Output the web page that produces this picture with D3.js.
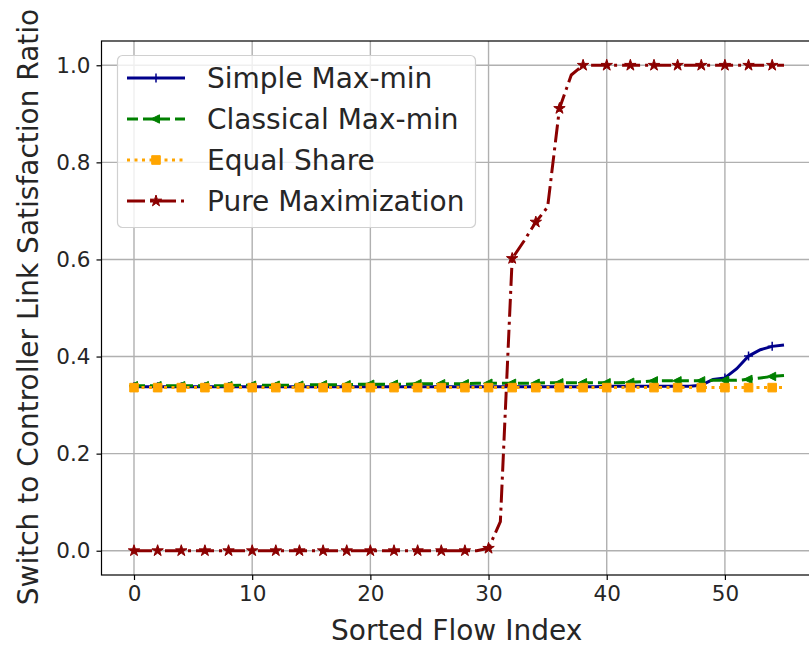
<!DOCTYPE html>
<html>
<head>
<meta charset="utf-8">
<script src="https://cdn.jsdelivr.net/npm/d3@7"></script>
<style>
  html, body { margin: 0; padding: 0; background: #fff; }
  svg { display: block; font-family: "DejaVu Sans", sans-serif; }
</style>
</head>
<body>
<svg id="chart" width="809" height="647"></svg>
<script>
// Satisfaction ratio per sorted flow (flow index 0..55)
const flowIndex = d3.range(0, 56);

const simpleMaxMin = [
  0.338, 0.338, 0.338, 0.338, 0.338, 0.338, 0.338, 0.338, 0.338, 0.338,
  0.338, 0.338, 0.338, 0.338, 0.338, 0.338, 0.338, 0.338, 0.338, 0.338,
  0.338, 0.338, 0.338, 0.338, 0.338, 0.338, 0.338, 0.338, 0.338, 0.338,
  0.338, 0.338, 0.338, 0.338, 0.338, 0.338, 0.338, 0.338, 0.338, 0.338,
  0.339, 0.339, 0.339, 0.339, 0.339, 0.339, 0.339, 0.339, 0.341, 0.353,
  0.356, 0.375, 0.401, 0.414, 0.421, 0.424
];

const classicalMaxMin = [
  0.340, 0.340, 0.340, 0.340, 0.340, 0.340, 0.340, 0.340, 0.340, 0.341,
  0.341, 0.341, 0.341, 0.341, 0.341, 0.342, 0.342, 0.342, 0.342, 0.343,
  0.343, 0.343, 0.343, 0.343, 0.344, 0.344, 0.344, 0.344, 0.344, 0.345,
  0.345, 0.345, 0.345, 0.345, 0.345, 0.346, 0.346, 0.346, 0.346, 0.346,
  0.346, 0.346, 0.347, 0.348, 0.350, 0.350, 0.350, 0.350, 0.350, 0.351,
  0.351, 0.351, 0.353, 0.356, 0.359, 0.361
];

const equalShare = [
  0.336, 0.336, 0.336, 0.336, 0.336, 0.336, 0.336, 0.336, 0.336, 0.336,
  0.336, 0.336, 0.336, 0.336, 0.336, 0.336, 0.336, 0.336, 0.336, 0.336,
  0.336, 0.336, 0.336, 0.336, 0.336, 0.336, 0.336, 0.336, 0.336, 0.336,
  0.336, 0.336, 0.336, 0.336, 0.336, 0.336, 0.336, 0.336, 0.336, 0.336,
  0.336, 0.336, 0.336, 0.336, 0.336, 0.336, 0.336, 0.336, 0.336, 0.336,
  0.336, 0.336, 0.336, 0.336, 0.336, 0.336
];

const pureMaximization = [
  0, 0, 0, 0, 0, 0, 0, 0, 0, 0,
  0, 0, 0, 0, 0, 0, 0, 0, 0, 0,
  0, 0, 0, 0, 0, 0, 0, 0, 0, 0,
  0.005, 0.06, 0.602, 0.638, 0.677, 0.708, 0.911, 0.98, 1, 1,
  1, 1, 1, 1, 1, 1, 1, 1, 1, 1,
  1, 1, 1, 1, 1, 1
];

const xTicks = [0, 10, 20, 30, 40, 50];
const yTicks = [0.0, 0.2, 0.4, 0.6, 0.8, 1.0];

const seriesNames = ["Simple Max-min", "Classical Max-min", "Equal Share", "Pure Maximization"];
const seriesValues = [simpleMaxMin, classicalMaxMin, equalShare, pureMaximization];
const seriesColors = ["#00008b", "#008000", "#ffa500", "#8b0000"];
const seriesDash = ["none", "11,5", "3,4.5", "18,5,3,5"];
const seriesMarker = ["plus", "triangleLeft", "square", "star"];

const svg = d3.select("#chart");
const plot = { left: 101.5, right: 816.5, top: 41, bottom: 575 };

const x = d3.scaleLinear().domain([-2.75, 57.75]).range([plot.left, plot.right]);
const y = d3.scaleLinear().domain([-0.05, 1.05]).range([plot.bottom, plot.top]);

svg.append("defs").append("clipPath").attr("id", "plotClip")
  .append("rect")
  .attr("x", plot.left).attr("y", plot.top)
  .attr("width", plot.right - plot.left).attr("height", plot.bottom - plot.top);

// grid
const grid = svg.append("g");
grid.selectAll("line.gx").data(xTicks).join("line")
  .attr("x1", d => x(d)).attr("x2", d => x(d))
  .attr("y1", plot.top).attr("y2", plot.bottom)
  .attr("stroke", "#b0b0b0").attr("stroke-width", 1.4);
grid.selectAll("line.gy").data(yTicks).join("line")
  .attr("y1", d => y(d)).attr("y2", d => y(d))
  .attr("x1", plot.left).attr("x2", plot.right)
  .attr("stroke", "#b0b0b0").attr("stroke-width", 1.4);

// marker shapes
function starPath(r) {
  const pts = [];
  for (let i = 0; i < 10; i++) {
    const rr = i % 2 === 0 ? r : r * 0.382;
    const a = -Math.PI / 2 + i * Math.PI / 5;
    pts.push([rr * Math.cos(a), rr * Math.sin(a)]);
  }
  return "M" + pts.map(p => p.join(",")).join("L") + "Z";
}
function markerPath(kind) {
  switch (kind) {
    case "plus": return "M-4.5,0L4.5,0M0,-4.5L0,4.5";
    case "triangleLeft": return "M-5,0L3.5,-4.2L3.5,4.2Z";
    case "square": return "M-4.3,-4.3L4.3,-4.3L4.3,4.3L-4.3,4.3Z";
    case "star": return starPath(6);
  }
}

const line = d3.line().x(d => x(d[0])).y(d => y(d[1]));
const plotG = svg.append("g").attr("clip-path", "url(#plotClip)");

seriesValues.forEach((vals, s) => {
  const pts = flowIndex.map((i, k) => [i, vals[k]]);
  const g = plotG.append("g");
  g.append("path")
    .attr("d", line(pts))
    .attr("fill", "none")
    .attr("stroke", seriesColors[s])
    .attr("stroke-width", 3)
    .attr("stroke-dasharray", seriesDash[s]);
  const marked = pts.filter((p, k) => k % 2 === 0);
  g.selectAll("path.m").data(marked).join("path")
    .attr("transform", d => `translate(${x(d[0])},${y(d[1])})`)
    .attr("d", markerPath(seriesMarker[s]))
    .attr("fill", seriesMarker[s] === "plus" ? "none" : seriesColors[s])
    .attr("stroke", seriesColors[s])
    .attr("stroke-width", seriesMarker[s] === "plus" ? 1.5 : 1);
});

// axes frame
svg.append("rect")
  .attr("x", plot.left).attr("y", plot.top)
  .attr("width", plot.right - plot.left).attr("height", plot.bottom - plot.top)
  .attr("fill", "none").attr("stroke", "#000").attr("stroke-width", 1.2);

const xAxis = d3.axisBottom(x).tickValues(xTicks).tickFormat(d3.format("d"))
  .tickSize(5).tickPadding(6);
const yAxis = d3.axisLeft(y).tickValues(yTicks).tickFormat(d3.format(".1f"))
  .tickSize(5).tickPadding(6);

const gx = svg.append("g").attr("transform", `translate(0,${plot.bottom})`).call(xAxis);
const gy = svg.append("g").attr("transform", `translate(${plot.left},0)`).call(yAxis);
[gx, gy].forEach(g => {
  g.select(".domain").remove();
  g.selectAll(".tick line").attr("stroke", "#000").attr("stroke-width", 1.2);
  g.selectAll(".tick text").attr("fill", "#262626")
    .style("font-family", "DejaVu Sans").style("font-size", "21.5px");
});

svg.append("text")
  .attr("x", x(27.3)).attr("y", 640)
  .attr("text-anchor", "middle")
  .style("font-size", "28px").attr("fill", "#262626")
  .text("Sorted Flow Index");

svg.append("text")
  .attr("transform", `translate(38,${(plot.top + plot.bottom) / 2 - 1}) rotate(-90)`)
  .attr("text-anchor", "middle")
  .style("font-size", "28px").attr("fill", "#262626")
  .text("Switch to Controller Link Satisfaction Ratio");

// legend
const leg = svg.append("g");
leg.append("rect")
  .attr("x", 117.5).attr("y", 55.5).attr("width", 358).attr("height", 172)
  .attr("rx", 5).attr("ry", 5)
  .attr("fill", "#fff").attr("fill-opacity", 0.8)
  .attr("stroke", "#d0d0d0").attr("stroke-width", 1.2);
seriesNames.forEach((name, s) => {
  const cy = 78 + s * 41;
  const row = leg.append("g");
  row.append("line")
    .attr("x1", 127).attr("x2", 185).attr("y1", cy).attr("y2", cy)
    .attr("stroke", seriesColors[s]).attr("stroke-width", 3)
    .attr("stroke-dasharray", seriesDash[s]);
  row.append("path")
    .attr("transform", `translate(156,${cy})`)
    .attr("d", markerPath(seriesMarker[s]))
    .attr("fill", seriesMarker[s] === "plus" ? "none" : seriesColors[s])
    .attr("stroke", seriesColors[s])
    .attr("stroke-width", seriesMarker[s] === "plus" ? 1.5 : 1);
  row.append("text")
    .attr("x", 207).attr("y", cy + 10)
    .style("font-size", "28px").attr("fill", "#262626")
    .text(name);
});
</script>
</body>
</html>
